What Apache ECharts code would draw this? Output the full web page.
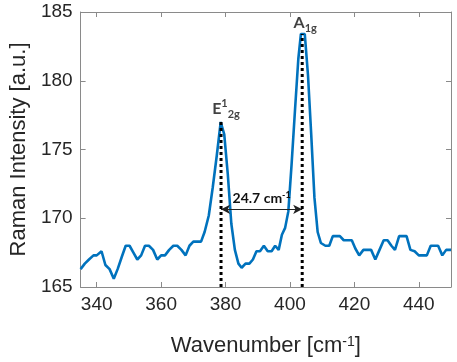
<!DOCTYPE html>
<html>
<head>
<meta charset="utf-8">
<script src="https://cdn.jsdelivr.net/npm/echarts@6/dist/echarts.min.js"></script>
<style>
	html, body { margin: 0; padding: 0; background: #fff; }
	#chart { width: 457px; height: 362px; }
</style>
</head>
<body>
<div id="chart"></div>
<script>
// spectrum
let wavenumber = [335, 336.3, 337.6, 339, 340, 341.5, 342.7, 344, 345.3, 346.5, 347.8, 349, 350.2, 351.4, 352.6, 353.8,
	355, 356.2, 357.5, 358.8, 360, 361.2, 362.5, 363.8, 365, 366.3, 367.6, 368.8, 370, 371.2, 372.4, 373.5,
	374.8, 376, 377.3, 378.5, 379.6, 380.7, 381.8, 382.9, 384, 385, 386.2, 387.4, 388.5, 389.6, 390.7, 391.9,
	393.1, 394.3, 395.4, 396.5, 397.5, 398.5, 399.5, 400.5, 401.6, 402.6, 403.4, 404.6, 405.6, 406.6, 407.6,
	408.6, 409.6, 411, 412.2, 413.3, 414.4, 415.5, 416.7, 418, 419.2, 420.3, 421.5, 422.8, 424, 425.2, 426.5,
	427.8, 429.1, 430.3, 431.5, 432.6, 433.9, 435, 436.2, 437.4, 438.7, 440, 441.2, 442.5, 443.7, 444.9, 446,
	447.3, 448.5, 450]
let intensity = [166.3, 166.7, 167.0, 167.3, 167.3, 167.6, 166.6, 166.3, 165.6, 166.3, 167.2, 168.0, 168.0, 167.5, 167.0, 167.3,
	168.0, 168.0, 167.7, 167.0, 167.3, 167.3, 167.7, 168.0, 168.0, 167.7, 167.3, 168.0, 168.3, 168.3, 168.3, 169.0,
	170.2, 172.2, 174.6, 177.0, 176.1, 173.2, 169.6, 167.7, 166.7, 166.4, 166.7, 166.7, 167.0, 167.6, 167.6, 168.0,
	167.6, 167.6, 168.0, 167.7, 168.8, 169.3, 170.5, 173.9, 178.0, 181.6, 183.4, 183.4, 180.4, 176.1, 171.5,
	169.0, 168.2, 168.0, 168.0, 168.7, 168.7, 168.7, 168.4, 168.4, 168.4, 167.8, 167.3, 167.7, 167.7, 167.7, 167.0,
	167.7, 168.4, 168.4, 168.0, 167.7, 168.7, 168.7, 168.7, 167.7, 167.6, 167.3, 167.3, 167.3, 168.0, 168.0, 168.0,
	167.3, 167.7, 167.7]

let xTicks = [340, 360, 380, 400, 420, 440]
let peakE = [378.6, 177.0]
let peakA = [403.8, 183.4]
let arrowY = 170.65
let shiftText = '24.7'

let chart = echarts.init(document.getElementById('chart'))

let spectrum = wavenumber.map((w, i) => [w, intensity[i]])
let axisColor = '#8a8a8a'
let textColor = '#262626'
let font = 'Liberation Sans'

let dotted = {
	color: '#000',
	width: 3,
	type: [3, 3]
}

let option = {
	animation: false,
	grid: {
		left: 72,
		right: 6,
		top: 12,
		bottom: 75
	},
	xAxis: [{
		type: 'value',
		min: 335,
		max: 450,
		name: 'Wavenumber [cm{sup|-1}]',
		nameLocation: 'middle',
		nameGap: 48,
		nameTextStyle: {
			fontFamily: font,
			fontSize: 22,
			color: textColor,
			rich: {
				sup: {
					fontFamily: font,
					fontSize: 14,
					color: textColor,
					verticalAlign: 'top',
					lineHeight: 12
				}
			}
		},
		axisLine: { lineStyle: { color: axisColor, width: 1 } },
		axisTick: { inside: true, length: 5, customValues: xTicks, lineStyle: { color: axisColor } },
		axisLabel: { customValues: xTicks, margin: 8, fontFamily: font, fontSize: 19, color: textColor },
		splitLine: { show: false }
	}, {
		type: 'value',
		position: 'top',
		min: 335,
		max: 450,
		axisLine: { show: true, lineStyle: { color: axisColor, width: 1 } },
		axisTick: { show: true, inside: true, length: 5, customValues: xTicks, lineStyle: { color: axisColor } },
		axisLabel: { show: false },
		splitLine: { show: false }
	}],
	yAxis: [{
		type: 'value',
		min: 165,
		max: 185,
		interval: 5,
		name: 'Raman Intensity [a.u.]',
		nameLocation: 'middle',
		nameGap: 44,
		nameTextStyle: { fontFamily: font, fontSize: 22, color: textColor },
		axisLine: { show: true, lineStyle: { color: axisColor, width: 1 } },
		axisTick: { show: true, inside: true, length: 5, lineStyle: { color: axisColor } },
		axisLabel: { margin: 8, fontFamily: font, fontSize: 19, color: textColor },
		splitLine: { show: false }
	}, {
		type: 'value',
		position: 'right',
		min: 165,
		max: 185,
		interval: 5,
		axisLine: { show: true, lineStyle: { color: axisColor, width: 1 } },
		axisTick: { show: true, inside: true, length: 5, lineStyle: { color: axisColor } },
		axisLabel: { show: false },
		splitLine: { show: false }
	}],
	series: [{
			name: 'spectrum',
			type: 'line',
			data: spectrum,
			symbol: 'none',
			lineStyle: { color: '#0072BD', width: 2.6 },
			z: 2
		},
		{
			// dotted guide at E peak
			type: 'line',
			data: [[peakE[0], 165], peakE],
			symbol: 'none',
			lineStyle: dotted,
			z: 3
		},
		{
			// dotted guide at A peak
			type: 'line',
			data: [[peakA[0], 165], peakA],
			symbol: 'none',
			lineStyle: dotted,
			z: 3
		},
		{
			// peak labels
			type: 'scatter',
			symbolSize: 0,
			silent: true,
			data: [{
				value: peakE,
				label: {
					formatter: '{e|E}{sup|1}{sub|2g}',
					offset: [5, 0]
				}
			}, {
				value: peakA,
				label: {
					formatter: '{e|A}{sub|1g}',
					offset: [3, 2]
				}
			}],
			label: {
				show: true,
				position: 'top',
				distance: 2,
				color: '#111',
				rich: {
					e: { fontFamily: 'Lato', fontWeight: 'bold', fontSize: 16, color: '#111', lineHeight: 22 },
					sup: { fontFamily: 'Lato', fontWeight: 'bold', fontSize: 11, color: '#111', verticalAlign: 'top', lineHeight: 12 },
					sub: { fontFamily: 'Lato', fontWeight: 'bold', fontSize: 11, color: '#111', verticalAlign: 'bottom', lineHeight: 12 }
				}
			},
			z: 4
		},
		{
			// shift arrow
			type: 'line',
			data: [],
			markLine: {
				silent: true,
				symbol: ['arrow', 'arrow'],
				symbolSize: [7, 9],
				lineStyle: { color: '#222', width: 1, type: 'solid' },
				label: {
					show: true,
					position: 'middle',
					distance: 3,
					formatter: '{t|' + shiftText + ' cm}{sup|-1}',
					rich: {
						t: { fontFamily: 'Lato', fontWeight: 'bold', fontSize: 14, color: '#111', lineHeight: 16 },
						sup: { fontFamily: 'Lato', fontWeight: 'bold', fontSize: 9, color: '#111', verticalAlign: 'top', lineHeight: 10 }
					}
				},
				data: [[{ coord: [peakE[0], arrowY] }, { coord: [peakA[0], arrowY] }]]
			},
			z: 5
		}
	]
}

chart.setOption(option)
</script>
</body>
</html>
